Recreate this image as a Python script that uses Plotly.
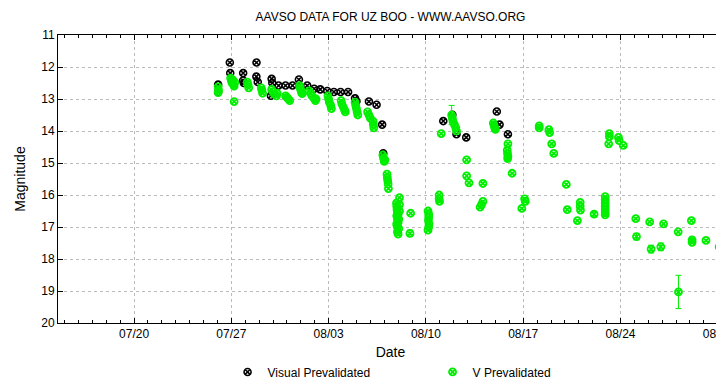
import pandas as pd
import plotly.graph_objects as go

visual_day = [6.05, 6.05, 6.89, 6.92, 7.85, 7.85, 7.90, 8.81, 8.80, 8.90,
              9.90, 9.95, 9.85, 10.40, 10.90, 11.40, 11.86, 12.46, 12.96, 13.40,
              13.90, 14.38, 14.86, 15.40, 15.90, 16.00, 16.90, 17.45, 17.85, 17.93,
              22.25, 22.90, 23.20, 23.90, 26.10, 26.30, 26.90]
visual_mag = [12.55, 12.78, 11.86, 12.19, 12.19, 12.42, 12.50, 11.86, 12.30, 12.47,
              12.37, 12.50, 12.90, 12.58, 12.58, 12.58, 12.39, 12.58, 12.68, 12.70,
              12.75, 12.78, 12.78, 12.78, 12.98, 13.07, 13.08, 13.18, 13.80, 14.70,
              13.69, 13.49, 14.10, 14.20, 13.39, 13.80, 14.10]

v_day = [6.05, 6.08, 6.05, 6.95, 7.00, 7.05, 7.10, 7.15, 7.25, 7.20,
         7.20, 8.15, 8.20, 8.25, 9.15, 9.20, 9.25, 9.90, 10.00, 10.10,
         10.25, 10.30, 10.90, 11.00, 11.10, 11.20, 11.90, 11.95, 12.00, 12.05,
         12.10, 12.60, 12.70, 12.80, 12.95, 13.05, 13.10, 13.95, 14.00, 14.05,
         14.15, 14.20, 14.90, 14.95, 15.05, 15.15, 15.20, 15.90, 15.95, 16.00,
         16.05, 16.10, 16.80, 16.90, 17.00, 17.20, 17.22, 17.25, 17.90, 17.95,
         18.00, 18.05, 18.20, 18.22, 18.25, 18.28, 18.30, 19.10, 18.88, 18.90,
         18.92, 18.95, 18.90, 18.95, 19.00, 18.92, 19.05, 18.95, 19.00, 19.10,
         18.90, 19.00, 19.05, 18.95, 19.10, 19.90, 21.15, 21.20, 21.20, 21.18,
         21.22, 21.20, 21.15, 21.95, 21.95, 21.98, 22.10, 22.90, 22.95, 23.05,
         23.15, 23.20, 23.93, 23.93, 24.10, 25.10, 24.90, 25.00, 25.10, 25.85,
         25.90, 25.95, 26.00, 26.90, 26.85, 26.87, 26.90, 26.88, 27.20, 27.90,
         28.10, 28.15, 29.15, 29.15, 29.85, 29.90, 30.05, 30.20, 31.10, 31.17,
         31.90, 32.10, 32.10, 32.12, 33.90, 33.90, 33.90, 33.90, 33.90, 33.90,
         33.90, 34.20, 34.20, 34.15, 34.85, 34.90, 35.20, 36.10, 37.10, 38.10,
         39.15, 40.10, 40.15, 41.15, 42.10]
v_mag = [12.62, 12.72, 12.80, 12.35, 12.42, 12.50, 12.40, 12.55, 12.48, 12.60,
         13.08, 12.47, 12.55, 12.65, 12.65, 12.72, 12.82, 12.70, 12.78, 12.85,
         12.90, 12.82, 12.90, 12.95, 13.00, 13.05, 12.58, 12.65, 12.72, 12.80,
         12.83, 12.75, 12.82, 12.90, 12.98, 13.05, 13.00, 12.90, 13.00, 13.10,
         13.20, 13.30, 13.05, 13.15, 13.25, 13.35, 13.40, 13.10, 13.20, 13.30,
         13.40, 13.50, 13.40, 13.50, 13.60, 13.70, 13.80, 13.90, 14.75, 14.85,
         14.95, 14.90, 15.35, 15.45, 15.55, 15.65, 15.80, 16.08, 16.25, 16.35,
         16.45, 16.55, 16.65, 16.75, 16.85, 16.95, 17.05, 17.15, 17.22, 16.50,
         16.90, 16.60, 16.75, 17.00, 16.30, 16.57, 16.50, 16.60, 16.70, 16.80,
         16.90, 17.00, 17.10, 16.00, 16.12, 16.20, 14.08, 13.60, 13.70, 13.80,
         13.90, 14.00, 14.90, 15.40, 15.62, 15.64, 16.38, 16.30, 16.20, 13.75,
         13.82, 13.90, 13.95, 14.40, 14.60, 14.70, 14.80, 14.86, 15.32, 16.42,
         16.12, 16.20, 13.84, 13.90, 13.96, 14.05, 14.40, 14.70, 15.67, 16.46,
         16.80, 16.23, 16.35, 16.47, 16.05, 16.15, 16.25, 16.35, 16.45, 16.55,
         16.62, 14.08, 14.18, 14.40, 14.20, 14.30, 14.45, 16.74, 16.84, 16.90,
         17.15, 16.80, 17.48, 17.42, 17.62]

# V points with visible error bars
verr_day = [19.85, 22.85, 33.10, 36.15, 37.20, 37.90, 39.17, 40.15]
verr_mag = [17.20, 13.50, 16.60, 17.30, 17.69, 17.62, 19.03, 17.40]
verr_err = [0.10, 0.30, 0.08, 0.10, 0.12, 0.12, 0.52, 0.08]

base = pd.Timestamp("2012-07-20")


def to_dates(days):
    return base + pd.to_timedelta(days, unit="D")


GREEN = "#00ee00"
FONT = "Liberation Sans"
green_marker = dict(symbol="circle-x-open", size=7, color=GREEN, line=dict(width=1.8, color=GREEN))

fig = go.Figure()
fig.add_trace(go.Scatter(
    x=to_dates(visual_day), y=visual_mag, mode="markers", name="Visual Prevalidated",
    marker=dict(symbol="circle-x-open", size=7, color="black", line=dict(width=1.6, color="black")),
))
fig.add_trace(go.Scatter(
    x=to_dates(v_day), y=v_mag, mode="markers", name="V Prevalidated", legendgroup="v",
    marker=green_marker,
))
fig.add_trace(go.Scatter(
    x=to_dates(verr_day), y=verr_mag, mode="markers", legendgroup="v", showlegend=False,
    error_y=dict(type="data", array=verr_err, color=GREEN, thickness=1, width=3),
    marker=green_marker,
))

# page body adds an 8px offset, so the figure is a bit smaller than the window
fig.update_layout(
    width=716, height=379,
    margin=dict(l=50, r=1, t=27, b=56),
    paper_bgcolor="white", plot_bgcolor="white",
    font=dict(family=FONT, size=12, color="black"),
    title=dict(text="AAVSO DATA FOR UZ BOO - WWW.AAVSO.ORG", x=0.5, xref="paper",
               xanchor="center", y=1 - 9 / 379, yanchor="middle",
               font=dict(family=FONT, size=12)),
    legend=dict(orientation="h", x=0.255, xanchor="left", y=-0.17, yanchor="middle",
                entrywidth=160, font=dict(family=FONT, size=12), bgcolor="rgba(0,0,0,0)"),
    showlegend=True,
)

fig.update_xaxes(
    type="date", automargin=False, ticklabeloverflow="allow",
    range=["2012-07-14 12:40", "2012-08-31 09:00"],
    tick0="2012-07-20", dtick=7 * 86400000, tickformat="%m/%d",
    ticks="inside", ticklen=5, tickcolor="black",
    minor=dict(dtick=86400000, ticks="inside", ticklen=3, tickcolor="black", showgrid=False),
    showline=True, linecolor="black", linewidth=1, mirror="allticks",
    showgrid=True, gridcolor="#bbbbbb", griddash="dot", gridwidth=1,
    zeroline=False,
    title=dict(text="Date", standoff=6),
)
fig.update_yaxes(
    automargin=False,
    range=[20, 11], dtick=1, tick0=11,
    ticks="inside", ticklen=5, tickcolor="black",
    showline=True, linecolor="black", linewidth=1, mirror="allticks",
    showgrid=True, gridcolor="#bbbbbb", griddash="dot", gridwidth=1,
    zeroline=False,
    title=dict(text="Magnitude", standoff=12),
)

fig.write_html("out.html")
